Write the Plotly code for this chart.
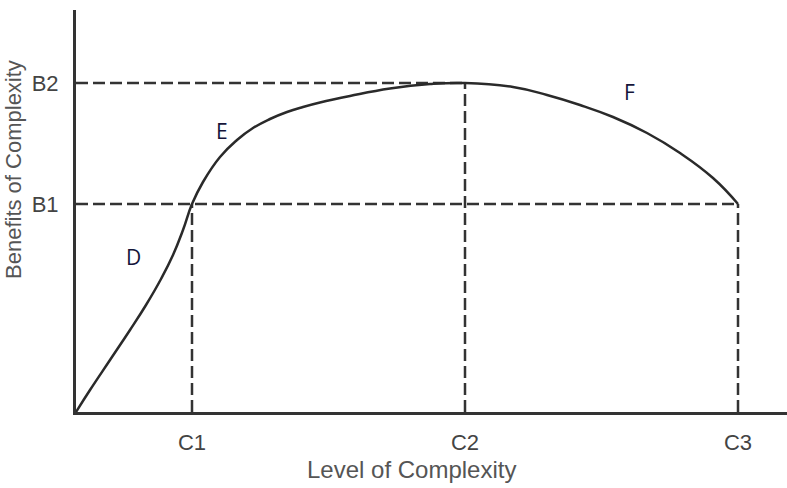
import plotly.graph_objects as go

# Curve (level of complexity vs benefits of complexity)
curve_x = [0, 0.14, 0.34, 0.54, 0.70, 0.85, 0.97, 1.07, 1.16,
           1.27, 1.44, 1.61, 1.77, 1.94, 2.11, 2.27, 2.44, 2.74, 3.14, 3.54, 3.89,
           4.37, 4.71, 5.04, 5.37, 5.71, 6.04, 6.37, 6.62]
curve_y = [0, 0.22, 0.52, 0.82, 1.07, 1.33, 1.57, 1.82, 2.08,
           2.30, 2.55, 2.72, 2.84, 2.93, 3.00, 3.05, 3.095, 3.16, 3.235, 3.28, 3.29,
           3.25, 3.17, 3.07, 2.95, 2.79, 2.59, 2.34, 2.08]

x_ticks = [1.16, 3.89, 6.62]
x_labels = ["C1", "C2", "C3"]
y_ticks = [2.08, 3.29]
y_labels = ["B1", "B2"]

region_labels = ["D", "E", "F"]
region_x = [0.57, 1.46, 5.53]
region_y = [1.55, 2.81, 3.20]

X_MAX = 7.11
Y_MAX = 4.02

dash_color = "#333333"
fig = go.Figure()

# dashed guide lines
guides = [
    ([0, x_ticks[1]], [y_ticks[1], y_ticks[1]]),   # B2 horizontal to C2
    ([0, x_ticks[2]], [y_ticks[0], y_ticks[0]]),   # B1 horizontal to C3
    ([x_ticks[0], x_ticks[0]], [0, y_ticks[0]]),   # C1 vertical
    ([x_ticks[1], x_ticks[1]], [0, y_ticks[1]]),   # C2 vertical
    ([x_ticks[2], x_ticks[2]], [0, y_ticks[0]]),   # C3 vertical
]
for gx, gy in guides:
    fig.add_trace(go.Scatter(x=gx, y=gy, mode="lines", showlegend=False, hoverinfo="skip",
                             line=dict(color=dash_color, width=2.5, dash="12px,5px")))

fig.add_trace(go.Scatter(x=curve_x, y=curve_y, mode="lines", showlegend=False,
                         line=dict(color="#2a2a2a", width=2.5, shape="spline", smoothing=1.3)))

for t, x, y in zip(region_labels, region_x, region_y):
    fig.add_annotation(x=x, y=y, text=t, showarrow=False,
                       font=dict(family="Open Sans", size=21, color="#15153a"))

fig.add_annotation(xref="paper", yref="paper", x=(13 - 76) / 711, y=(412 - 170) / 402,
                   text="Benefits of Complexity", textangle=-90, showarrow=False,
                   xanchor="center", yanchor="middle",
                   font=dict(family="Liberation Sans", size=22, color="#555555"))
fig.add_annotation(xref="x", yref="paper", x=3.35, y=-(470 - 412) / 402,
                   text="Level of Complexity", showarrow=False,
                   xanchor="center", yanchor="middle",
                   font=dict(family="Liberation Sans", size=24, color="#555555"))

axis_common = dict(showgrid=False, zeroline=False, showline=True, linecolor="#333333",
                   linewidth=3, ticks="", mirror=False,
                   tickfont=dict(family="Liberation Sans", size=22, color="#444444"))

fig.update_layout(
    width=787, height=488,
    margin=dict(l=76, r=0, t=10, b=76),
    paper_bgcolor="white", plot_bgcolor="white",
    xaxis=dict(range=[0, X_MAX], tickvals=x_ticks, ticktext=x_labels,
               ticklabelstandoff=9, **axis_common),
    yaxis=dict(range=[0, Y_MAX], tickvals=y_ticks, ticktext=y_labels,
               ticklabelstandoff=10, **axis_common),
)

fig.write_html("out.html")
